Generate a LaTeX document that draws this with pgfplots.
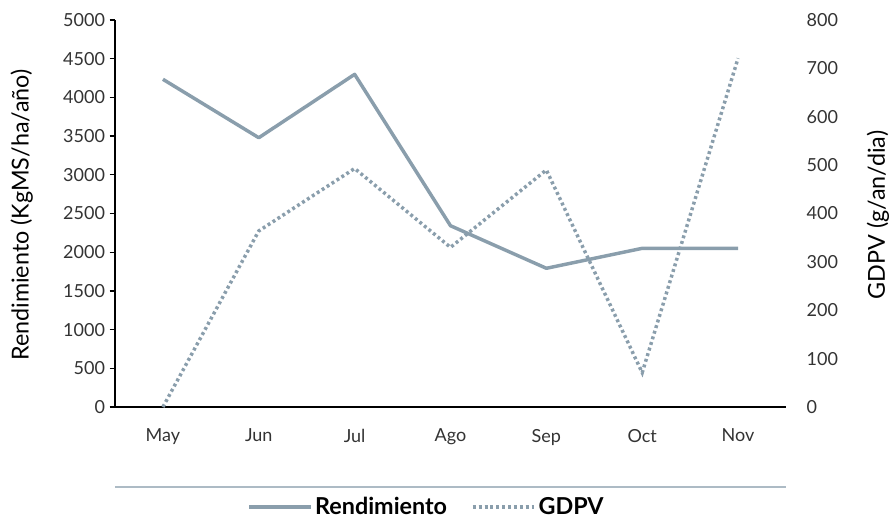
\documentclass[border=0pt]{standalone}
\usepackage{pgfplots}
\pgfplotsset{compat=1.18}
\usepackage{fontspec}
\setmainfont{Lato}
\definecolor{serie}{HTML}{8A9EAC}
\definecolor{ticktxt}{HTML}{333333}
\begin{document}
\begin{tikzpicture}
\useasboundingbox (-86.25pt,-85.5pt) rectangle (581.25pt,305.25pt);
\begin{axis}[
  name=main,
  at={(0,0)}, anchor=south west,
  scale only axis,
  width=503.25pt, height=290.25pt,
  xmin=-0.5, xmax=6.5,
  ymin=0, ymax=5000,
  axis x line*=bottom, axis y line*=left,
  axis line style={black, line width=1.3pt},
  x axis line style={-},
  y axis line style={-},
  xtick={0,...,6},
  xticklabels={May,Jun,Jul,Ago,Sep,Oct,Nov},
  minor xtick={-0.5,0.5,...,6.5},
  xtick style={draw=none},
  minor x tick style={black, line width=1.3pt},
  minor tick length=5pt,
  major tick length=4pt,
  tick align=outside,
  ytick={0,500,...,5000},
  ytick style={black, line width=1pt},
  tick label style={font=\fontsize{13.5pt}{15pt}\selectfont, text=ticktxt},
  xticklabel style={yshift=-9pt},
  /pgf/number format/assume math mode=true,
  /pgf/number format/1000 sep={},
  ylabel={Rendimiento (KgMS/ha/año)},
  ylabel style={font=\fontsize{17.5pt}{20pt}\selectfont, at={(axis description cs:-0.139,0.496)}, anchor=center},
  clip=false,
  legend style={at={(axis description cs:0.465,-0.258)}, anchor=center, draw=none, fill=none,
    legend columns=2, font=\fontsize{17.5pt}{20pt}\selectfont\bfseries,
    /tikz/every even column/.append style={column sep=16pt}},
  legend image code/.code={\draw[#1] (0pt,0pt) -- (41pt,0pt); \path (0pt,0pt) -- (46pt,0pt);},
]
\addplot[serie, line width=2.6pt, line join=round] coordinates {
  (0,4234) (1,3479) (2,4298) (3,2342) (4,1792) (5,2050) (6,2050)};
\addlegendentry{Rendimiento}
\addlegendimage{serie, line width=2.6pt, dash pattern=on 2.2pt off 2.2pt}
\addlegendentry{GDPV}
\draw[serie!70, line width=1.3pt] (axis description cs:0,-0.207) -- (axis description cs:1,-0.207);
\end{axis}
\begin{axis}[
  at={(0,0)}, anchor=south west,
  scale only axis,
  width=503.25pt, height=290.25pt,
  xmin=-0.5, xmax=6.5,
  ymin=0, ymax=800,
  hide x axis,
  axis y line*=right,
  y axis line style={draw=none},
  ytick={0,100,...,800},
  major tick length=0pt,
  ytick style={draw=none},
  tick label style={font=\fontsize{13.5pt}{15pt}\selectfont, text=ticktxt},
  yticklabel style={anchor=west, xshift=12pt},
  /pgf/number format/assume math mode=true,
  ylabel={GDPV (g/an/dia)},
  ylabel style={font=\fontsize{17.5pt}{20pt}\selectfont, at={(axis description cs:1.137,0.496)}, anchor=center, rotate=0},
  clip=false,
]
\addplot[serie, line width=2.6pt, dash pattern=on 2.2pt off 2.2pt] coordinates {
  (0,0) (1,364) (2,493) (3,330) (4,490) (5,71) (6,721)};
\end{axis}
\end{tikzpicture}
\end{document}
